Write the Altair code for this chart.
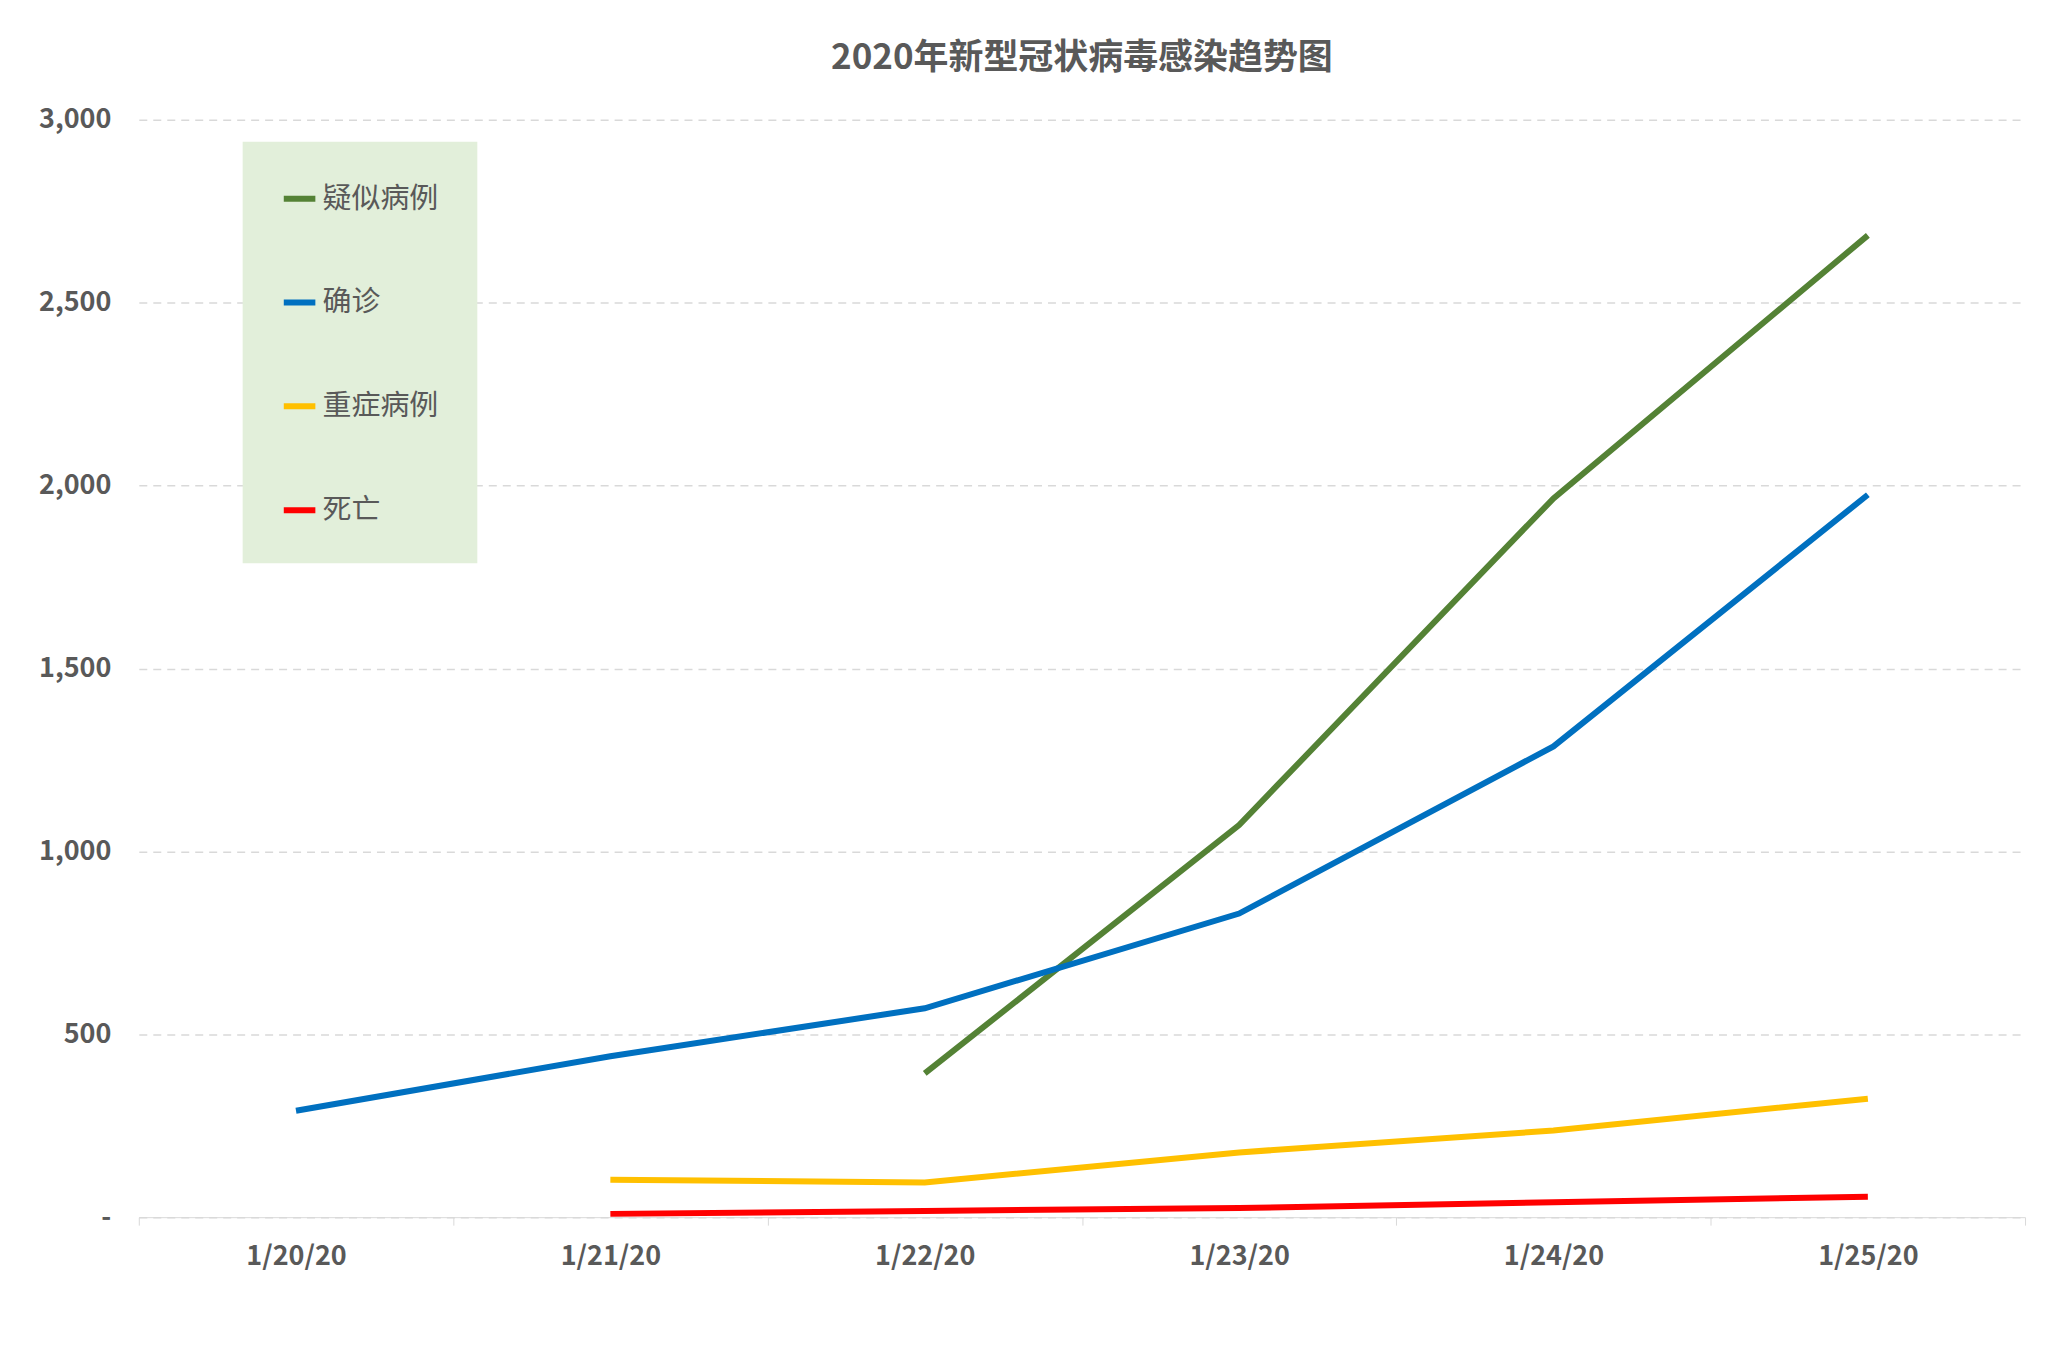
import altair as alt
import pandas as pd

dates = ["1/20/20", "1/21/20", "1/22/20", "1/23/20", "1/24/20", "1/25/20"]
series_names = ["疑似病例", "确诊", "重症病例", "死亡"]
colors = ["#548235", "#0070c0", "#ffc000", "#ff0000"]

suspected = [None, None, 393, 1072, 1965, 2684]
confirmed = [291, 440, 571, 830, 1287, 1975]
severe = [None, 102, 95, 177, 237, 324]
deaths = [None, 9, 17, 25, 41, 56]

rows = []
for name, vals in zip(series_names, [suspected, confirmed, severe, deaths]):
    for d, v in zip(dates, vals):
        if v is not None:
            rows.append({"date": d, "series": name, "value": v})
df = pd.DataFrame(rows)

font = "Noto Sans CJK SC"

chart = alt.Chart(df).mark_line(strokeWidth=6).encode(
    x=alt.X("date:O", sort=dates, title=None,
            scale=alt.Scale(paddingInner=0, paddingOuter=0),
            axis=alt.Axis(labelAngle=0, tickBand="extent", grid=False,
                          labelPadding=18, tickSize=8, domainColor="#d9d9d9",
                          tickColor="#d9d9d9")),
    y=alt.Y("value:Q", title=None,
            scale=alt.Scale(domain=[0, 3000], nice=False),
            axis=alt.Axis(values=[0, 500, 1000, 1500, 2000, 2500, 3000],
                          labelExpr="datum.value == 0 ? '-' : format(datum.value, ',')",
                          domain=False, ticks=False, labelPadding=28,
                          gridDash=[8, 6], gridColor="#d9d9d9", gridWidth=1.5)),
    color=alt.Color("series:N", sort=series_names, title=None,
                    scale=alt.Scale(domain=series_names, range=colors),
                    legend=alt.Legend(orient="none", legendX=104, legendY=22,
                                      fillColor="#e2efda", padding=38,
                                      rowPadding=70, symbolType="stroke",
                                      symbolStrokeWidth=6, symbolSize=1000,
                                      labelFontSize=29, labelColor="#595959",
                                      labelFont=font, labelLimit=300)),
).properties(
    width=1889,
    height=1099,
    title=alt.Title("2020年新型冠状病毒感染趋势图", fontSize=35, color="#595959",
                    font=font, fontWeight="bold", offset=30),
    padding={"left": 30, "top": 32, "right": 30, "bottom": 20},
).configure_axis(
    labelFont=font, labelFontSize=27, labelFontWeight="bold", labelColor="#595959"
).configure_view(stroke=None)

chart.save("out.html", embed_options={"renderer": "svg", "actions": False})
